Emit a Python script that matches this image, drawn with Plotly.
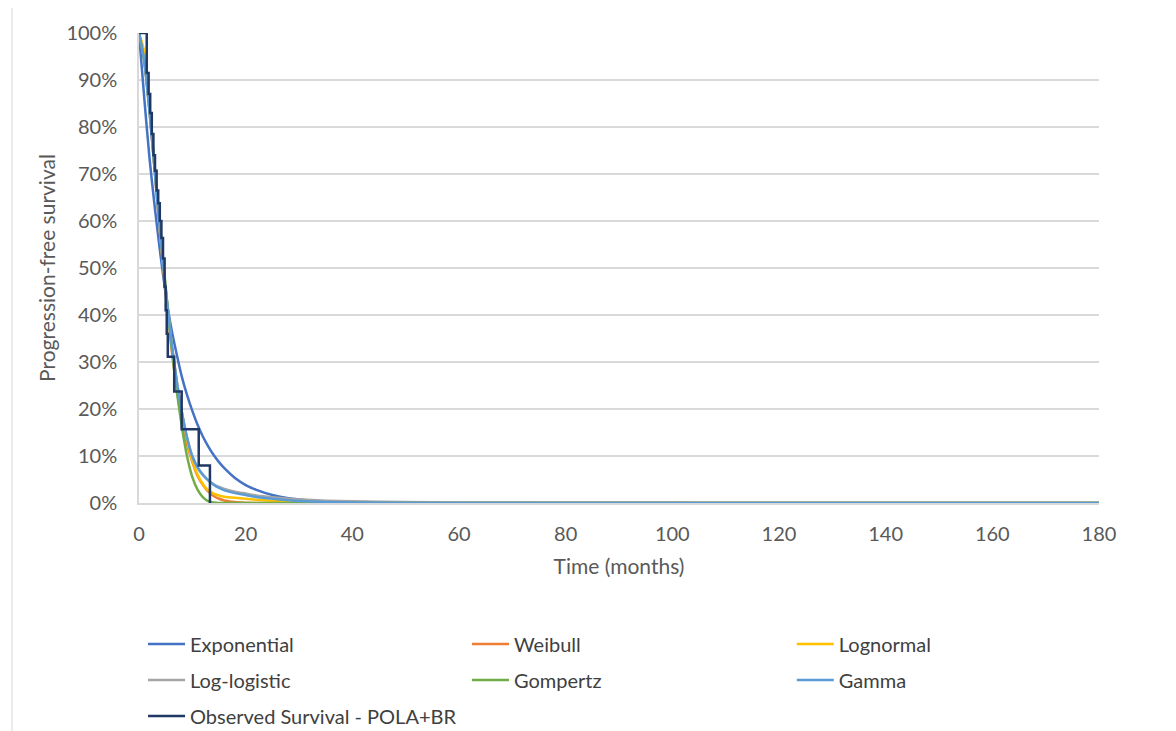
import plotly.graph_objects as go

# ---- data ----
time_fit = [0, 1, 2, 3, 4, 5, 6, 7, 8, 9, 10, 11, 12, 13, 14, 15, 16, 18, 20, 22, 25, 28, 30,
            35, 40, 50, 60, 80, 100, 120, 140, 160, 180]

exponential = [100, 86, 73, 62.5, 53, 44.5, 37.5, 32, 27, 23, 19.6, 16.6, 14.1, 12, 10.2, 8.7, 7.4,
               5.3, 3.8, 2.8, 1.7, 1.0, 0.75, 0.33, 0.15, 0.03, 0.01, 0, 0, 0, 0, 0, 0]
weibull = [100, 94, 83, 70, 56.7, 44.4, 33.8, 24.9, 17.9, 12.5, 8.7, 5.7, 3.8, 2.4, 1.5, 0.9, 0.55,
           0.19, 0.06, 0.02, 0, 0, 0, 0, 0, 0, 0, 0, 0, 0, 0, 0, 0]
lognormal = [100, 96, 84, 70, 57, 45.5, 35, 26.5, 19.5, 13.5, 9.0, 6.0, 4.0, 2.7, 2.0, 1.6, 1.35,
             1.1, 0.9, 0.7, 0.45, 0.28, 0.2, 0.1, 0.05, 0.02, 0.01, 0, 0, 0, 0, 0, 0]
loglogistic = [100, 94, 83, 70, 57, 45.5, 35, 26.5, 19.5, 14, 9.8, 7.5, 5.9, 4.8, 4.0, 3.4, 3.0,
               2.4, 2.0, 1.6, 1.2, 0.9, 0.75, 0.5, 0.35, 0.2, 0.12, 0.06, 0.03, 0.02, 0.015, 0.01, 0.008]
gompertz = [100, 94, 83.5, 71, 58.5, 46, 34.5, 24.5, 16.5, 10, 5.5, 2.8, 1.2, 0.4, 0.1, 0.02, 0,
            0, 0, 0, 0, 0, 0, 0, 0, 0, 0, 0, 0, 0, 0, 0, 0]
gamma = [100, 94, 83, 70, 57, 45.5, 35, 26.5, 19.5, 14, 10, 7.6, 6.0, 4.8, 3.9, 3.2, 2.7,
         2.1, 1.7, 1.3, 0.9, 0.6, 0.45, 0.22, 0.1, 0.02, 0.005, 0, 0, 0, 0, 0, 0]

obs_time = [0, 1.45, 1.8, 2.1, 2.4, 2.7, 3.0, 3.3, 3.6, 3.9, 4.2, 4.5, 4.8, 5.0, 5.2, 5.4, 6.6,
            8.0, 11.2, 13.3]
obs_surv = [100, 91.5, 87, 83, 78.5, 74, 70.7, 66.5, 63.8, 60, 56.4, 52, 46, 41, 36, 31.1, 23.7,
            15.7, 8.0, 0]

y_ticks = [0, 10, 20, 30, 40, 50, 60, 70, 80, 90, 100]
y_tick_labels = [f"{v}%" for v in y_ticks]
x_ticks = [0, 20, 40, 60, 80, 100, 120, 140, 160, 180]

series_names = ["Exponential", "Weibull", "Lognormal", "Log-logistic", "Gompertz", "Gamma",
                "Observed Survival - POLA+BR"]
series_values = [exponential, weibull, lognormal, loglogistic, gompertz, gamma]
series_colors = ["#4472C4", "#ED7D31", "#FFC000", "#A5A5A5", "#70AD47", "#5B9BD5", "#1F3864"]

# legend slots (column x in paper units, row y in paper units)
col_x = [0.0042, 0.3417, 0.680]
row_y = [-0.300, -0.3766, -0.4532]
slots = [(0, 0), (1, 0), (2, 0), (0, 1), (1, 1), (2, 1), (0, 2)]

FONT = "Lato, 'Open Sans', sans-serif"
legend_ids = ["legend"] + [f"legend{i}" for i in range(2, 8)]

fig = go.Figure()
for i, (name, vals) in enumerate(zip(series_names[:6], series_values)):
    fig.add_trace(go.Scatter(
        x=time_fit, y=[v / 100 for v in vals], name=name, mode="lines",
        line=dict(color=series_colors[i], width=2.5, shape="spline", smoothing=0.6),
        legend=legend_ids[i],
    ))
fig.add_trace(go.Scatter(
    x=obs_time, y=[v / 100 for v in obs_surv], name=series_names[6], mode="lines",
    line=dict(color=series_colors[6], width=2.5, shape="hv"), legend=legend_ids[6],
))

legends = {}
for lid, (c, r) in zip(legend_ids, slots):
    legends[lid] = dict(
        orientation="h", xanchor="left", yanchor="middle", x=col_x[c], y=row_y[r],
        font=dict(family=FONT, size=20, color="#404040"),
        bgcolor="rgba(0,0,0,0)", itemwidth=37,
    )

fig.update_layout(
    width=1168, height=723,
    margin=dict(l=131, r=77, t=25, b=228, autoexpand=False),
    paper_bgcolor="white", plot_bgcolor="white",
    font=dict(family=FONT, size=20, color="#595959"),
    xaxis=dict(
        range=[0, 180], tickvals=x_ticks, ticktext=[str(v) for v in x_ticks],
        showgrid=False, zeroline=False, showline=True, linecolor="#D9D9D9", linewidth=1.5,
        ticks="", ticklabelstandoff=12, tickfont=dict(size=20, color="#595959"),
        title=dict(text="Time (months)", font=dict(size=21, color="#595959"), standoff=16),
    ),
    yaxis=dict(
        range=[0, 1], tickvals=[v / 100 for v in y_ticks], ticktext=y_tick_labels,
        showgrid=True, gridcolor="#D9D9D9", gridwidth=1.5, zeroline=False,
        showline=True, linecolor="#D9D9D9", linewidth=1.5,
        ticks="", ticklabelstandoff=16, tickfont=dict(size=20, color="#595959"),
        title=dict(text="Progression-free survival", font=dict(size=21, color="#595959"), standoff=5),
    ),
    showlegend=True,
    **legends,
)

# chart-area border on the left edge
fig.add_shape(type="line", xref="paper", yref="paper", x0=-0.1323, x1=-0.1323, y0=1.053, y1=-0.49,
              line=dict(color="#D9D9D9", width=1))

fig.write_html("out.html")
